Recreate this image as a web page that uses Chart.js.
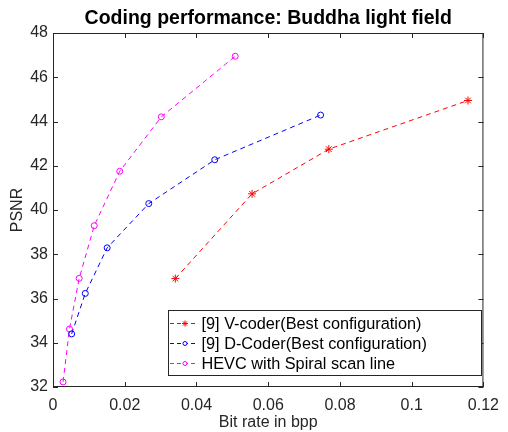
<!DOCTYPE html>
<html>
<head>
<meta charset="utf-8">
<script src="https://cdn.jsdelivr.net/npm/chart.js@4"></script>
<style>
  html, body { margin: 0; padding: 0; background: #fff; }
  #wrap { width: 508px; height: 432px; }
</style>
</head>
<body>
<div id="wrap"><canvas id="psnrChart" width="508" height="432"></canvas></div>
<script>
const seriesNames = [
  '[9] V-coder(Best configuration)',
  '[9] D-Coder(Best configuration)',
  'HEVC with Spiral scan line'
];
const vCoderBpp = [0.0341, 0.0555, 0.0769, 0.1157];
const vCoderPsnr = [36.90, 40.73, 42.75, 44.95];
const dCoderBpp = [0.0052, 0.0090, 0.0151, 0.0267, 0.0451, 0.0746];
const dCoderPsnr = [34.40, 36.23, 38.29, 40.29, 42.27, 44.29];
const hevcBpp = [0.0028, 0.0046, 0.0073, 0.0115, 0.0186, 0.0302, 0.0508];
const hevcPsnr = [32.23, 34.62, 36.91, 39.29, 41.75, 44.21, 46.95];
const xTickLabels = ['0', '0.02', '0.04', '0.06', '0.08', '0.1', '0.12'];
const yTickLabels = ['32', '34', '36', '38', '40', '42', '44', '46', '48'];

const FONT = '"Liberation Sans", Arial, Helvetica, sans-serif';

function toPoints(xs, ys) {
  return xs.map((x, i) => ({ x: x, y: ys[i] }));
}

// matlab style box, inward ticks, title and inside legend
const matlabLook = {
  id: 'matlabLook',
  afterDraw(chart) {
    const c = chart.ctx;
    const a = chart.chartArea;
    const xs = chart.scales.x, ys = chart.scales.y;
    c.save();
    c.strokeStyle = '#262626';
    c.lineWidth = 1;
    c.strokeRect(a.left + 0.5, a.top + 0.5, a.right - a.left - 1, a.bottom - a.top - 1);
    c.beginPath();
    xs.ticks.forEach(t => {
      const px = Math.round(xs.getPixelForValue(t.value)) + 0.5;
      c.moveTo(px, a.bottom); c.lineTo(px, a.bottom - 5);
      c.moveTo(px, a.top); c.lineTo(px, a.top + 5);
    });
    ys.ticks.forEach(t => {
      const py = Math.round(ys.getPixelForValue(t.value)) + 0.5;
      c.moveTo(a.left, py); c.lineTo(a.left + 5, py);
      c.moveTo(a.right, py); c.lineTo(a.right - 5, py);
    });
    c.stroke();

    // title
    c.fillStyle = '#000';
    c.font = 'bold 19.5px ' + FONT;
    c.textAlign = 'center';
    c.textBaseline = 'middle';
    c.fillText('Coding performance: Buddha light field', (a.left + a.right) / 2, 18.5);

    // legend
    const lx = 168, ly = 310, lw = 313, lh = 65;
    c.fillStyle = '#fff';
    c.fillRect(lx, ly, lw, lh);
    c.strokeStyle = '#262626';
    c.strokeRect(lx + 0.5, ly + 0.5, lw, lh);
    chart.data.datasets.forEach((ds, i) => {
      const yy = ly + 13.5 + i * 20;
      c.strokeStyle = ds.borderColor;
      c.setLineDash([4, 3]);
      c.beginPath();
      c.moveTo(lx + 2, yy); c.lineTo(lx + 30, yy);
      c.stroke();
      c.setLineDash([]);
      c.fillStyle = '#fff';
      c.strokeStyle = ds.borderColor;
      Chart.helpers.drawPoint(c, {
        pointStyle: ds.pointStyle, radius: ds.pointRadius - 1,
        borderWidth: 1
      }, lx + 17, yy);
      c.fillStyle = '#000';
      c.font = '16.3px ' + FONT;
      c.textAlign = 'left';
      c.fillText(ds.label, lx + 33.5, yy + 1);
    });
    c.restore();
  }
};

function series(label, xs, ys, color, style, r) {
  return {
    label: label,
    data: toPoints(xs, ys),
    borderColor: color,
    backgroundColor: 'rgba(0,0,0,0)',
    pointBorderColor: color,
    borderWidth: 1,
    borderDash: [5, 4],
    pointStyle: style,
    pointRadius: r,
    pointBorderWidth: 1,
    tension: 0
  };
}

new Chart(document.getElementById('psnrChart'), {
  type: 'scatter',
  data: {
    datasets: [
      series(seriesNames[0], vCoderBpp, vCoderPsnr, '#ff0000', 'star', 4),
      series(seriesNames[1], dCoderBpp, dCoderPsnr, '#0000ff', 'circle', 3),
      series(seriesNames[2], hevcBpp, hevcPsnr, '#ff00ff', 'circle', 3)
    ]
  },
  options: {
    responsive: false,
    animation: false,
    showLine: true,
    layout: { padding: { top: 33, right: 20, left: 0, bottom: 0 } },
    plugins: {
      legend: { display: false },
      title: { display: false },
      tooltip: { enabled: false }
    },
    scales: {
      x: {
        type: 'linear', min: 0, max: 0.12,
        afterFit: s => { s.height = 45; },
        ticks: {
          stepSize: 0.02, color: '#262626', padding: 9,
          font: { family: FONT, size: 16 },
          maxRotation: 0,
          callback: (v, i) => xTickLabels[i]
        },
        grid: { display: false, drawTicks: false },
        border: { display: false },
        title: {
          display: true, text: 'Bit rate in bpp', color: '#262626',
          font: { family: FONT, size: 16 }, padding: { top: 0, bottom: 0 }
        }
      },
      y: {
        type: 'linear', min: 32, max: 48,
        afterFit: s => { s.width = 53; },
        ticks: {
          stepSize: 2, color: '#262626', padding: 5,
          font: { family: FONT, size: 16 },
          callback: (v, i) => yTickLabels[i]
        },
        grid: { display: false, drawTicks: false },
        border: { display: false },
        title: {
          display: true, text: 'PSNR', color: '#262626',
          font: { family: FONT, size: 16 }, padding: { top: 8, bottom: 0 }
        }
      }
    }
  },
  plugins: [matlabLook]
});
</script>
</body>
</html>
